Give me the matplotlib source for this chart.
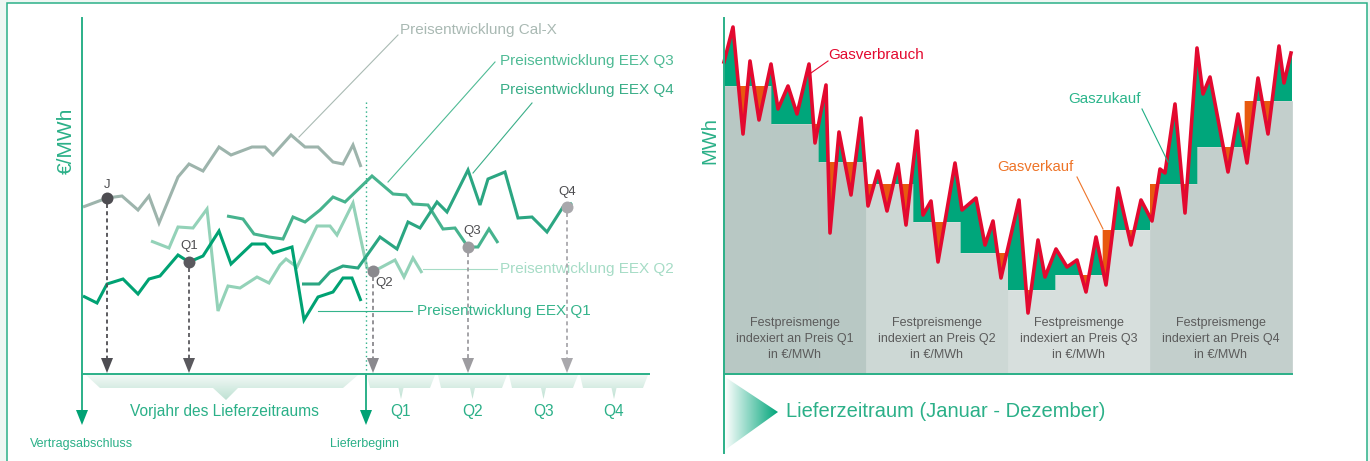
import numpy as np
import matplotlib
matplotlib.use('Agg')
import matplotlib.pyplot as plt
from matplotlib.patches import Polygon, Rectangle
from matplotlib.colors import LinearSegmentedColormap

plt.rcParams['font.family'] = ['Liberation Sans', 'DejaVu Sans']

# ---------------- Daten (Bildeinheiten, y nach unten) ----------------
# linke Grafik: Preisentwicklungen
calx_x = [83, 107, 122, 138, 149, 159, 178, 189, 203, 219, 231, 252, 265, 273, 291, 305, 318, 333, 343, 353, 361]
calx_y = [207, 198, 196, 210, 196, 223, 177, 164, 171, 147, 155, 147, 147, 155, 135, 147, 147, 162, 164, 145, 167]

q1_x = [83, 97, 107, 123, 138, 149, 160, 178, 189, 203, 219, 231, 252, 265, 273, 292, 304, 318, 333, 343, 352, 361]
q1_y = [296, 303, 284, 279, 294, 279, 276, 255, 262, 256, 231, 264, 244, 244, 253, 247, 320, 297, 292, 278, 278, 301]

q2_x = [151, 169, 178, 193, 207, 218, 228, 240, 257, 269, 280, 286, 297, 317, 330, 337, 353, 367, 373, 380, 395, 404, 413, 422]
q2_y = [241, 248, 227, 228, 209, 311, 286, 288, 277, 283, 265, 259, 267, 226, 226, 235, 203, 268, 271, 268, 260, 277, 258, 273]

q3_x = [227, 243, 254, 269, 283, 293, 305, 320, 333, 345, 372, 393, 406, 413, 428, 443, 455, 468, 478, 489, 498]
q3_y = [216, 219, 234, 237, 239, 217, 222, 210, 197, 202, 176, 194, 195, 204, 205, 229, 228, 247, 247, 229, 243]

q4_x = [302, 319, 330, 343, 358, 380, 397, 408, 420, 437, 447, 468, 480, 488, 505, 518, 532, 547, 563, 567, 572]
q4_y = [284, 284, 272, 266, 268, 237, 249, 222, 228, 202, 212, 170, 205, 179, 172, 218, 217, 232, 207, 207, 203]

mark_labels = ['J', 'Q1', 'Q2', 'Q3', 'Q4']
mark_x = [107, 189, 373, 468, 567]
mark_y = [198, 262, 271, 247, 207]

quarters = ['Q1', 'Q2', 'Q3', 'Q4']

# rechte Grafik: Gasverbrauch und Festpreismengen
use_x = [724, 733, 743, 750, 759, 771, 778, 788, 797, 809, 815, 826, 830, 839, 851, 861, 868, 878, 887, 898,
         906, 917, 923, 931, 938, 955, 962, 976, 985, 993, 1001, 1019, 1028, 1038, 1045, 1056, 1067, 1077, 1086, 1096,
         1106, 1118, 1131, 1141, 1152, 1160, 1165, 1175, 1185, 1197, 1203, 1210, 1228, 1238, 1247, 1258, 1268, 1279, 1284, 1291]
use_y = [62, 27, 134, 61, 120, 64, 109, 86, 114, 64, 143, 85, 233, 132, 195, 118, 206, 171, 211, 164,
         225, 131, 215, 201, 262, 163, 210, 198, 245, 221, 278, 200, 313, 240, 277, 249, 267, 260, 292, 237,
         285, 188, 245, 200, 221, 169, 173, 104, 213, 48, 94, 77, 172, 114, 163, 78, 134, 46, 83, 53]
fixed_levels = [86, 124, 162, 184, 222, 253, 290, 275, 230, 184, 147, 101]

# ---------------- Farben ----------------
GREEN = '#2bb088'
FILL_GREEN = '#00a67b'
ORANGE = '#e8590f'
RED = '#e3092f'
quarter_gray = ['#b8c8c4', '#cdd8d5', '#d7dfdd', '#c3cfcc']


def gradient(ax, verts, c0, c1, horizontal=False, z=2):
    poly = Polygon(verts, closed=True, fc='none', ec='none')
    ax.add_patch(poly)
    vx, vy = zip(*verts)
    cmap = LinearSegmentedColormap.from_list('g', [c0, c1])
    g = np.linspace(0, 1, 256)
    img = g[None, :] if horizontal else g[:, None]
    im = ax.imshow(img, cmap=cmap, extent=(min(vx), max(vx), max(vy), min(vy)),
                   origin='upper', aspect='auto', interpolation='bilinear', zorder=z)
    im.set_clip_path(poly)


def arrow_head(ax, x, tip, color, h=15, w=6, z=5):
    ax.add_patch(Polygon([(x - w, tip - h), (x + w, tip - h), (x, tip)], closed=True,
                         fc=color, ec='none', zorder=z))


fig = plt.figure(figsize=(13.7, 4.61), dpi=100)
fig.patch.set_facecolor('#eef7f3')
ax = fig.add_axes([0, 0, 1, 1])
ax.set_facecolor('none')
ax.axis('off')

# Rahmen
ax.add_patch(Rectangle((7, 3), 1360, 470, fc='white', ec=GREEN, lw=1.1, zorder=0))

# ======== linke Grafik ========
ax.plot([82, 82], [18, 412], color=GREEN, lw=1.4, zorder=4)
arrow_head(ax, 82, 425, '#00a274')
ax.plot([82, 649], [374, 374], color=GREEN, lw=1.4, zorder=4)
ax.plot([366, 366], [102, 374], color=GREEN, lw=1.0, ls=(0, (1, 2.2)), zorder=4)
ax.plot([366, 366], [374, 412], color=GREEN, lw=1.4, zorder=4)
arrow_head(ax, 366, 425, '#00a274')

ax.text(66, 141, '€/MWh', rotation=90, ha='center', va='center', fontsize=15, color=GREEN)

# Klammern unter der Zeitachse
gradient(ax, [(86, 375), (358, 375), (343, 388), (238, 388), (226, 400), (213, 388), (100, 388)],
         '#f3faf7', '#bfe1d3')
ax.text(224, 411, 'Vorjahr des Lieferzeitraums', ha='center', va='center', fontsize=11.2, color=GREEN)
qb_left = [367, 438, 509, 580]
qb_right = [435, 507, 578, 648]
for q, l, r in zip(quarters, qb_left, qb_right):
    c = (l + r) / 2
    gradient(ax, [(l, 375), (r, 375), (r - 5, 388), (c + 2.5, 388), (c, 399), (c - 2.5, 388), (l + 3, 388)],
             '#f3faf7', '#bfe1d3')
    ax.text(c, 411, q, ha='center', va='center', fontsize=11.2, color=GREEN)

ax.text(30, 444, 'Vertragsabschluss', ha='left', va='center', fontsize=9, color=GREEN)
ax.text(330, 444, 'Lieferbeginn', ha='left', va='center', fontsize=9, color=GREEN)

# Preislinien
lkw = dict(lw=2.2, solid_joinstyle='miter', solid_capstyle='butt', zorder=3)
ax.plot(calx_x, calx_y, color='#9db4ac', **lkw)
ax.plot(q2_x, q2_y, color='#93d2b8', **lkw)
ax.plot(q3_x, q3_y, color='#46b38e', **lkw)
ax.plot(q4_x, q4_y, color='#2ba682', **lkw)
ax.plot(q1_x, q1_y, color='#00a273', **lkw)

# Beschriftungen mit Hinweislinien
ax.plot([299, 398], [137, 35], color='#a9bab3', lw=0.8, zorder=3)
ax.text(400, 30, 'Preisentwicklung Cal-X', ha='left', va='center', fontsize=11, color='#a9b9b3')
ax.plot([388, 495], [182, 62], color='#4fbb95', lw=0.8, zorder=3)
ax.text(500, 61, 'Preisentwicklung EEX Q3', ha='left', va='center', fontsize=11, color='#4fbb95')
ax.plot([473, 532], [173, 103], color='#3aae88', lw=0.8, zorder=3)
ax.text(500, 90, 'Preisentwicklung EEX Q4', ha='left', va='center', fontsize=11, color='#3aae88')
ax.plot([423, 497], [269, 269], color='#a6dcc6', lw=0.8, zorder=3)
ax.text(500, 269, 'Preisentwicklung EEX Q2', ha='left', va='center', fontsize=11, color='#a6dcc6')
ax.plot([318, 412], [311, 311], color='#35b48b', lw=0.8, zorder=3)
ax.text(417, 311, 'Preisentwicklung EEX Q1', ha='left', va='center', fontsize=11, color='#35b48b')

# Fixierungszeitpunkte
mark_col = ['#4e4d52', '#5a595e', '#8a898e', '#9d9ca0', '#a9a8ac']
label_off = [(0, -13), (0, -16), (11, 12), (4, -16), (0, -15)]
for lab, x, y, col, (dx, dy) in zip(mark_labels, mark_x, mark_y, mark_col, label_off):
    ax.plot([x, x], [y + 6, 358], color=col, lw=1.3, ls=(0, (2.2, 1.8)), zorder=4)
    arrow_head(ax, x, 373, col)
    ax.plot(x, y, 'o', ms=8.6, color=col, mec='none', zorder=6)
    ax.text(x + dx, y + dy, lab, ha='center', va='center', fontsize=9.5, color='#4d4d50')

# ======== rechte Grafik ========
edges = np.linspace(724, 1292, 13)
centers = (edges[:-1] + edges[1:]) / 2
width = edges[1] - edges[0]
levels = np.array(fixed_levels, dtype=float)
for i in range(12):
    col = quarter_gray[i // 3]
    ax.bar(centers[i], 374 - levels[i], bottom=levels[i], width=width, color=col,
           ec=col, lw=0.5, zorder=1)

# Mehr-/Mindermengen zwischen Festpreismenge und Verbrauch
ux = np.array(use_x, dtype=float)
uy = np.array(use_y, dtype=float)
xs, st = [], []
for i in range(12):
    inner = [x for x in ux if edges[i] < x < edges[i + 1]]
    seg = [edges[i]] + inner + [edges[i + 1]]
    xs += seg
    st += [levels[i]] * len(seg)
xs = np.array(xs)
st = np.array(st)
rv = np.interp(xs, ux, uy)
ax.fill_between(xs, rv, st, where=rv <= st, interpolate=True, color=FILL_GREEN, lw=0, zorder=2)
ax.fill_between(xs, rv, st, where=rv >= st, interpolate=True, color=ORANGE, lw=0, zorder=2)
ax.plot(use_x, use_y, color=RED, lw=2.6, solid_joinstyle='round', zorder=5)

ax.plot([724, 724], [18, 453], color=GREEN, lw=1.4, zorder=6)
ax.plot([724, 1292], [374, 374], color=GREEN, lw=1.4, zorder=6)
ax.text(710, 141, 'MWh', rotation=90, ha='center', va='center', fontsize=14.5, color=GREEN)

for q in range(4):
    c = (edges[3 * q] + edges[3 * q + 3]) / 2
    for j, line in enumerate(['Festpreismenge', 'indexiert an Preis ' + quarters[q], 'in €/MWh']):
        ax.text(c, 323 + 16 * j, line, ha='center', va='center', fontsize=9, color='#5b5b5b', zorder=6)

ax.plot([811, 828], [73, 61], color=RED, lw=0.8, zorder=6)
ax.text(828, 55, 'Gasverbrauch', ha='left', va='center', fontsize=11, color=RED, zorder=6)
ax.plot([1142, 1168], [109, 162], color='#1fae84', lw=0.8, zorder=6)
ax.text(1068, 99, 'Gaszukauf', ha='left', va='center', fontsize=10.9, color='#2bb58b', zorder=6)
ax.plot([1077, 1103], [177, 229], color='#ee7428', lw=0.8, zorder=6)
ax.text(997, 167, 'Gasverkauf', ha='left', va='center', fontsize=10.7, color='#ee7428', zorder=6)

gradient(ax, [(725, 377), (778, 412), (725, 450)], '#ffffff', '#00a57a', horizontal=True)
ax.text(786, 411, 'Lieferzeitraum (Januar - Dezember)', ha='left', va='center', fontsize=14.5, color=GREEN)

ax.set_xlim(0, 1370)
ax.set_ylim(461, 0)
fig.savefig('out.png', dpi=100, facecolor=fig.get_facecolor())
